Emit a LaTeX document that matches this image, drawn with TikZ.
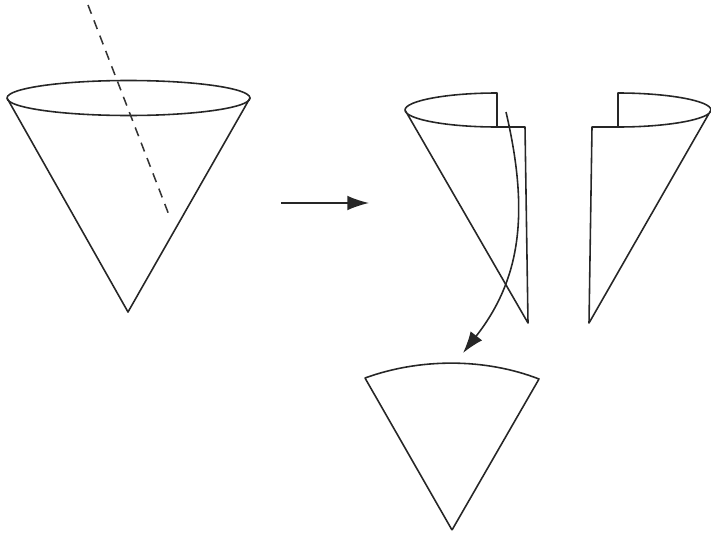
\documentclass[tikz,border=0pt]{standalone}
\usepackage{xcolor}
\usetikzlibrary{arrows.meta}

\begin{document}
\begin{tikzpicture}[
 x=0.03cm,y=-0.03cm,
 edge/.style={draw=black!85,line width=1.35pt,line join=round},
 axisline/.style={draw=black!80,line width=1.3pt,dash pattern=on 8pt off 6pt},
 arr/.style={edge,-{Latex[length=6.5mm,width=4.4mm]}}]
 \useasboundingbox (0,0) rectangle (711,533);
 % whole cone
 \coordinate (rimL) at (7,98); \coordinate (rimR) at (250,98);
 \coordinate (apex) at (128,312);
 \draw[edge] (128.5,98) ellipse [x radius=121.5,y radius=17.5];
 \draw[edge] (rimL) -- (apex) -- (rimR);
 \coordinate (axisA) at (88,5); \coordinate (axisB) at (169,215);
 \draw[axisline] (axisA) -- (axisB);
 % step arrow
 \coordinate (stepA) at (281,203); \coordinate (stepB) at (369,203);
 \draw[arr] (stepA) -- (stepB);
 % left half
 \coordinate (lTop) at (497,93); \coordinate (lRim) at (405,110);
 \coordinate (lMid) at (497,127); \coordinate (lCut) at (525,127);
 \coordinate (lApex) at (528,323);
 \draw[edge] (lMid) -- (lTop) .. controls (446,93) and (405,101) .. (lRim)
  .. controls (405,119) and (446,127) .. (lMid) -- (lCut) -- (lApex) -- (lRim);
 % right half
 \coordinate (rTop) at (618,93); \coordinate (rRim) at (711,110);
 \coordinate (rMid) at (618,127); \coordinate (rCut) at (592,127);
 \coordinate (rApex) at (589,323);
 \draw[edge] (rMid) -- (rTop) .. controls (669,93) and (711,101) .. (rRim)
  .. controls (711,119) and (669,127) .. (rMid) -- (rCut) -- (rApex) -- (rRim);
 % unrolled sector
 \coordinate (secL) at (365,378); \coordinate (secR) at (539,379);
 \coordinate (secApex) at (452,530);
 \draw[edge] (secApex) -- (secL) .. controls (420,358) and (485,358) .. (secR) -- (secApex);
 % curved arrow
 \coordinate (curveA) at (506,112); \coordinate (curveB) at (463,353);
 \draw[arr] (curveA) .. controls (530,215) and (520,280) .. (curveB);
\end{tikzpicture}
\end{document}
